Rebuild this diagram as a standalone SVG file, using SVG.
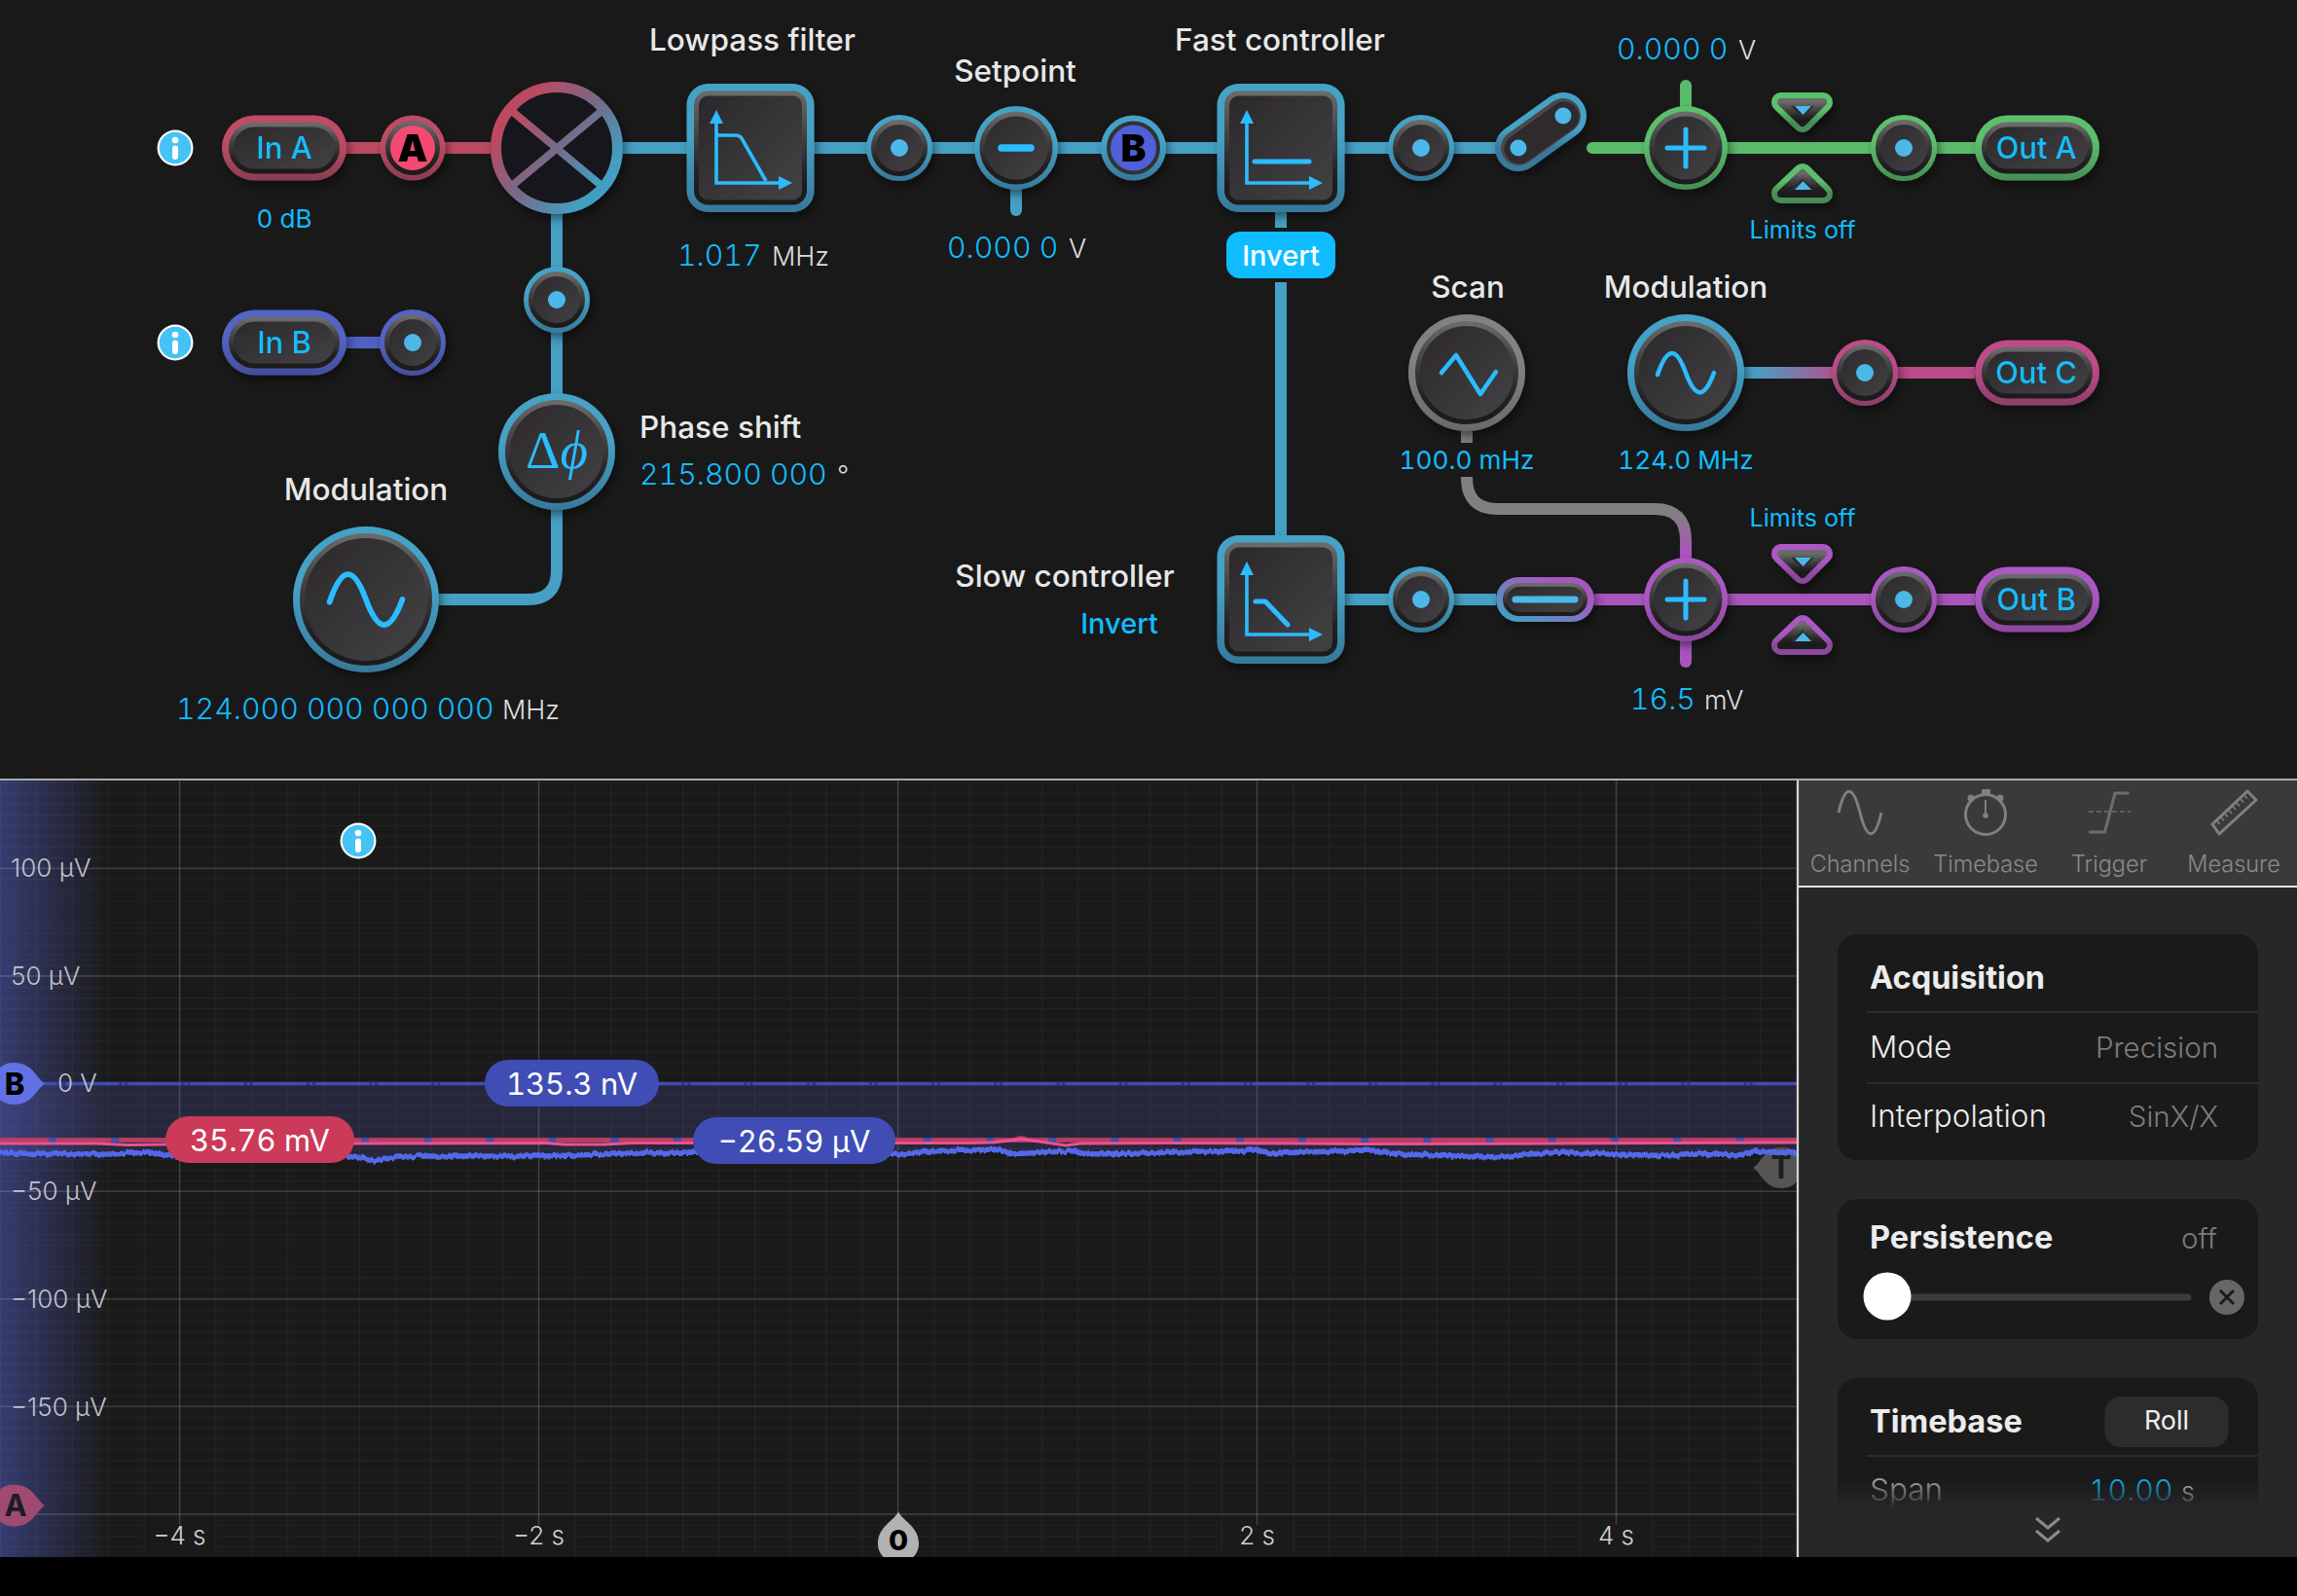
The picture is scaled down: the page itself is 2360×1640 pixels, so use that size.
<svg xmlns="http://www.w3.org/2000/svg" width="2360" height="1640" viewBox="0 0 2360 1640">
<defs>
<linearGradient id="body" x1="0" y1="0" x2="1" y2="1"><stop offset="0" stop-color="#2a282a"/><stop offset="1" stop-color="#444245"/></linearGradient>
<linearGradient id="bevel" x1="0" y1="0" x2="0" y2="1"><stop offset="0" stop-color="#6a6a6a"/><stop offset=".35" stop-color="#454545"/><stop offset=".75" stop-color="#232123"/><stop offset="1" stop-color="#1c1a1c"/></linearGradient>
<linearGradient id="rt" x1="0" y1="0" x2="0" y2="1"><stop offset=".4" stop-color="#45a2c6"/><stop offset="1" stop-color="#38789a"/></linearGradient>
<linearGradient id="rr" x1="0" y1="0" x2="0" y2="1"><stop offset=".4" stop-color="#c04c64"/><stop offset="1" stop-color="#8a3c50"/></linearGradient>
<linearGradient id="rb" x1="0" y1="0" x2="0" y2="1"><stop offset=".4" stop-color="#5564c4"/><stop offset="1" stop-color="#444e9c"/></linearGradient>
<linearGradient id="rg" x1="0" y1="0" x2="0" y2="1"><stop offset=".4" stop-color="#5cbf6c"/><stop offset="1" stop-color="#478c54"/></linearGradient>
<linearGradient id="rp" x1="0" y1="0" x2="0" y2="1"><stop offset=".4" stop-color="#ab58c2"/><stop offset="1" stop-color="#8a489c"/></linearGradient>
<linearGradient id="rk" x1="0" y1="0" x2="0" y2="1"><stop offset=".4" stop-color="#c04b8a"/><stop offset="1" stop-color="#8a3f68"/></linearGradient>
<linearGradient id="ry" x1="0" y1="0" x2="0" y2="1"><stop offset=".4" stop-color="#828282"/><stop offset="1" stop-color="#6a6a6a"/></linearGradient>
<linearGradient id="mix" gradientUnits="userSpaceOnUse" x1="520" y1="108" x2="625" y2="196"><stop offset=".1" stop-color="#bb4a62"/><stop offset=".5" stop-color="#766a88"/><stop offset=".9" stop-color="#429fc2"/></linearGradient>
<linearGradient id="slim" x1="0" y1="1" x2="1" y2="0"><stop offset=".1" stop-color="#429fc2"/><stop offset=".75" stop-color="#a857c0"/></linearGradient>
<linearGradient id="toPink" gradientUnits="userSpaceOnUse" x1="1800" y1="383" x2="1895" y2="383"><stop offset="0" stop-color="#45a2c6"/><stop offset="1" stop-color="#bb4a88"/></linearGradient>
<linearGradient id="toPurple" gradientUnits="userSpaceOnUse" x1="1732" y1="528" x2="1732" y2="566"><stop offset="0" stop-color="#808080"/><stop offset="1" stop-color="#a855bd"/></linearGradient>
<linearGradient id="leftGlow" x1="0" y1="0" x2="1" y2="0"><stop offset="0" stop-color="#363c70" stop-opacity="1"/><stop offset="1" stop-color="#363c70" stop-opacity="0"/></linearGradient>
<linearGradient id="fade" x1="0" y1="0" x2="0" y2="1"><stop offset="0" stop-color="#272727" stop-opacity="0"/><stop offset="1" stop-color="#272727"/></linearGradient>
<pattern id="minor" patternUnits="userSpaceOnUse" width="36.9" height="11.06" patternTransform="translate(0 892.3)"><path d="M0 0H36.9M0 0V11.06" fill="none" stroke="#fff" stroke-opacity=".05" stroke-width="1.6"/></pattern>
<clipPath id="scopeClip"><rect x="0" y="802" width="1846" height="798"/></clipPath>
<filter id="sh" x="-30%" y="-30%" width="170%" height="170%"><feDropShadow dx="3" dy="5" stdDeviation="5" flood-color="#000" flood-opacity=".45"/></filter>
<filter id="noise" filterUnits="userSpaceOnUse" x="0" y="1150" width="1850" height="70" color-interpolation-filters="sRGB"><feTurbulence type="fractalNoise" baseFrequency="0.3 0.03" numOctaves="2" seed="5"/><feDisplacementMap in="SourceGraphic" scale="5" xChannelSelector="R" yChannelSelector="G"/></filter>
<g id="pt"><circle r="34"/><circle r="26.5" fill="url(#body)" stroke="url(#bevel)" stroke-width="5"/><circle r="9" fill="#4bb8e8"/></g>
<g id="pill"><rect x="-64" y="-33.5" width="128" height="67" rx="33.5"/><rect x="-54.500" y="-24" width="109" height="48" rx="24" fill="url(#body)" stroke="url(#bevel)" stroke-width="5"/></g>
<g id="box"><rect x="-65.500" y="-66" width="131" height="132" rx="22"/><rect x="-55.5" y="-56" width="111" height="112" rx="12" fill="url(#body)" stroke="url(#bevel)" stroke-width="5"/></g>
<g id="r43"><circle r="43"/><circle r="35" fill="url(#body)" stroke="url(#bevel)" stroke-width="5"/></g>
<g id="r60"><circle r="60"/><circle r="50.5" fill="url(#body)" stroke="url(#bevel)" stroke-width="5"/></g>
<path id="sine1" d="M-29 2C-19-27-10-27 0 0C10 27 19 27 29 0" fill="none" stroke="#2cbcff" stroke-width="4.5" stroke-linecap="round"/>
<path id="axes" d="M-35-26V36H33" fill="none" stroke="#2cbcff" stroke-width="3.6"/>
<path id="heads" d="M-35-39L-42-25H-28ZM43 36L29 29V43Z" fill="#2cbcff"/>
<g id="info"><circle r="18.5" fill="#fff"/><circle r="16.3" fill="#45c3f5"/><circle cy="-8" r="3.3" fill="#fff"/><rect x="-3" y="-2.5" width="6" height="14.5" rx="3" fill="#fff"/></g>
<path id="drop" d="M46 0C38-4.500 34-21.500 14-21.500C-14-21.500-14 21.500 14 21.500C34 21.500 38 4.500 46 0Z"/>
</defs>
<style>
text{font-family:Inter,"Liberation Sans",sans-serif}
.lbl{font-size:31.500px;font-weight:500;fill:#e8e8e8;text-anchor:middle}
.val{font-size:30.300px;font-weight:300;fill:#12bcff;font-variant-numeric:tabular-nums}
.unit{font-size:27px;font-weight:300;fill:#dedede}
.sm{font-size:26.200px;font-weight:400;fill:#12bcff;text-anchor:middle;font-variant-numeric:tabular-nums}
.lim{font-size:25px;font-weight:400;fill:#12bcff;text-anchor:middle}
.pl{font-size:31px;font-weight:500;fill:#12bcff;text-anchor:middle}
.ax{font-size:26px;font-weight:300;fill:#c0c0cc}
.tab{font-size:23.500px;font-weight:300;fill:#8a8a8a;text-anchor:middle}
.h{font-size:32.500px;font-weight:700;fill:#ececec}
.row{font-size:31.500px;font-weight:300;fill:#ececec}
.rv{font-size:29.500px;font-weight:300;fill:#7c7c7c;text-anchor:end}
.bad{font-size:31px;font-weight:400;fill:#fff;text-anchor:middle;font-variant-numeric:tabular-nums}
.teal{fill:url(#rt)}.red{fill:url(#rr)}.blue{fill:url(#rb)}.green{fill:url(#rg)}.purple{fill:url(#rp)}.pink{fill:url(#rk)}.gray{fill:url(#ry)}
.n{filter:url(#sh)}
.w{fill:none;stroke-width:12}
.ico{fill:none;stroke:#2cbcff;stroke-width:5;stroke-linecap:round}
.t{fill:none;stroke:#808080;stroke-width:3}
.li{stroke-width:8;stroke:url(#bevel);stroke-linejoin:round;fill:#2c2a2d}
.lo{stroke-width:20;stroke-linejoin:round}
</style>
<rect width="2360" height="1640" fill="#19191a"/>
<g id="connectors">
<path class="w" stroke="#bb4a62" d="M354 152H504"/>
<path class="w" stroke="#5060c4" d="M354 352H424"/>
<path class="w" stroke="#45a0c4" d="M640 152H1251M1381 152H1560M1381 616H1537M1316 217V234M1316 290V551"/>
<path class="w" stroke="#45a0c4" d="M572 215V586Q572 616 542 616H451"/>
<path class="w" stroke="#45a0c4" stroke-linecap="round" d="M1044 190V216"/>
<path class="w" stroke="#5abc6a" stroke-linecap="round" d="M1636 152H2029M1732 110V88"/>
<path class="w" stroke="url(#toPink)" d="M1790 383H1900"/>
<path class="w" stroke="#bb4a88" d="M1900 383H2029"/>
<path class="w" stroke="#808080" d="M1507 443V455"/>
<path class="w" stroke="url(#toPurple)" d="M1507 490V491Q1507 523 1539 523H1700Q1732 523 1732 555V575"/>
<path class="w" stroke="#a855bd" d="M1638 616H2029"/>
<path class="w" stroke="#a855bd" stroke-linecap="round" d="M1732 650V680"/>
</g>
<g id="info-a"><use href="#info" x="180" y="152"/></g>
<g id="info-b"><use href="#info" x="180" y="352"/></g>
<g id="in-a" class="n"><use href="#pill" x="292" y="152" class="red"/><text class="pl" x="292" y="163">In A</text></g>
<text class="sm" x="292" y="234">0 dB</text>
<g id="badge-a" class="n"><circle cx="424" cy="152" r="33.500" class="red"/><circle cx="424" cy="152" r="25.500" fill="#f44a70" stroke="url(#bevel)" stroke-width="5"/><text x="424" y="166" font-size="39" font-weight="900" text-anchor="middle" fill="#000">A</text></g>
<g id="mixer" class="n"><circle cx="572" cy="152" r="62.500" fill="#19191a" stroke="url(#mix)" stroke-width="11"/><path d="M527 115L617 190M617 115L527 190" fill="none" stroke="url(#mix)" stroke-width="8"/></g>
<g id="lowpass" class="n"><use href="#box" x="771" y="152" class="teal"/><g transform="translate(771 152)"><use href="#axes"/><use href="#heads"/><path d="M-35-13H-15Q-10-13-8-8L16 34" fill="none" stroke="#2cbcff" stroke-width="3.600"/></g></g>
<text class="lbl" x="773" y="52">Lowpass filter</text>
<text class="val" x="696" y="273">1.017</text><text class="unit" x="793" y="273">MHz</text>
<g id="pt1" class="n"><use href="#pt" x="924" y="152" class="teal"/></g>
<g id="setpoint" class="n"><circle cx="1044" cy="152" r="43" class="teal"/><circle cx="1044" cy="152" r="35" fill="url(#body)" stroke="url(#bevel)" stroke-width="5"/><path d="M1029 152H1059" fill="none" stroke="#2cbcff" stroke-width="7.500" stroke-linecap="round"/></g>
<text class="lbl" x="1043" y="84">Setpoint</text>
<text class="val" x="973" y="265">0.000 0</text><text class="unit" x="1098" y="265">V</text>
<g id="badge-b" class="n"><circle cx="1164.500" cy="152" r="33.500" class="teal"/><circle cx="1164.500" cy="152" r="25.500" fill="#5060d8" stroke="#333" stroke-width="4"/><text x="1164.500" y="166" font-size="39" font-weight="900" text-anchor="middle" fill="#000">B</text></g>
<g id="fast" class="n"><use href="#box" x="1316" y="152" class="teal"/><g transform="translate(1316 152)"><use href="#axes"/><use href="#heads"/><path d="M-27 14H29" fill="none" stroke="#2cbcff" stroke-width="5" stroke-linecap="round"/></g></g>
<text class="lbl" x="1315" y="52">Fast controller</text>
<g id="invert-btn"><rect x="1260" y="238" width="112" height="48" rx="14" fill="#0fbcff"/><text x="1316" y="273" font-size="29" font-weight="500" text-anchor="middle" fill="#fff">Invert</text></g>
<g id="pt2" class="n"><use href="#pt" x="1460" y="152" class="teal"/></g>
<g id="switch" class="n"><path d="M1560 152L1606 119" fill="none" stroke="url(#rt)" stroke-width="48" stroke-linecap="round"/><path d="M1560 152L1606 119" fill="none" stroke="#4a4a4c" stroke-width="36" stroke-linecap="round"/><path d="M1561 153L1607 120" fill="none" stroke="#2e2c2e" stroke-width="31" stroke-linecap="round"/><circle cx="1560" cy="152" r="8.500" fill="#4bb8e8"/><circle cx="1606" cy="119" r="8.500" fill="#4bb8e8"/></g>
<g id="sum-a" class="n"><use href="#r43" x="1732" y="152" class="green"/><path d="M1713 152H1751M1732 133V171" class="ico"/></g>
<text class="val" x="1661" y="61">0.000 0</text><text class="unit" x="1786" y="61">V</text>
<g id="limit-a" class="n"><g transform="translate(0 -464)"><path d="M1830 569H1873L1852 590Z" class="green lo" stroke="url(#rg)"/><path d="M1830 569H1873L1852 590Z" class="li"/><path d="M1844 573H1861L1852.500 582Z" fill="#4bb8e8"/><path d="M1852 642L1873 663H1830Z" class="green lo" stroke="url(#rg)"/><path d="M1852 642L1873 663H1830Z" class="li"/><path d="M1852.500 650L1861 659H1844Z" fill="#4bb8e8"/></g></g>
<text class="lim" x="1852" y="245">Limits off</text>
<g id="pt3" class="n"><use href="#pt" x="1956" y="152" class="green"/></g>
<g id="out-a" class="n"><use href="#pill" x="2093" y="152" class="green"/><text class="pl" x="2092" y="163">Out A</text></g>
<g id="in-b" class="n"><use href="#pill" x="292" y="352" class="blue"/><text class="pl" x="292" y="363">In B</text></g>
<g id="pt4" class="n"><use href="#pt" x="424" y="352" class="blue"/></g>
<g id="pt5" class="n"><use href="#pt" x="572" y="308" class="teal"/></g>
<g id="phase" class="n"><use href="#r60" x="572" y="464" class="teal"/><text x="572" y="481" style="font-family:'Liberation Serif',serif" font-size="55" text-anchor="middle" fill="#2cbcff">Δ<tspan font-style="italic">ϕ</tspan></text></g>
<text class="lbl" style="text-anchor:start" x="657" y="450">Phase shift</text>
<text class="val" x="657" y="498">215.800 000</text><text class="unit" x="860" y="498">°</text>
<g id="mod-1" class="n"><circle cx="376" cy="616" r="75" class="teal"/><circle cx="376" cy="616" r="65.500" fill="url(#body)" stroke="url(#bevel)" stroke-width="5"/><g transform="translate(376 616) scale(1.290)"><use href="#sine1"/></g></g>
<text class="lbl" x="376" y="514">Modulation</text>
<text class="val" x="181" y="739">124.000 000 000 000</text><text class="unit" x="516" y="739">MHz</text>
<g id="scan" class="n"><use href="#r60" x="1507" y="383" class="gray"/><path d="M1481 383L1496 365L1521 405L1537 382" fill="none" stroke="#2cbcff" stroke-width="4.500" stroke-linecap="round" stroke-linejoin="round"/></g>
<text class="lbl" x="1508" y="306">Scan</text>
<text class="sm" x="1507" y="482">100.0 mHz</text>
<g id="mod-2" class="n"><use href="#r60" x="1732" y="383" class="teal"/><use href="#sine1" x="1732" y="383"/></g>
<text class="lbl" x="1732" y="306">Modulation</text>
<text class="sm" x="1732" y="482">124.0 MHz</text>
<g id="pt6" class="n"><use href="#pt" x="1916" y="383" class="pink"/></g>
<g id="out-c" class="n"><use href="#pill" x="2093" y="383" class="pink"/><text class="pl" x="2092" y="394">Out C</text></g>
<g id="slow" class="n"><use href="#box" x="1316" y="616" class="teal"/><g transform="translate(1316 616)"><use href="#axes"/><use href="#heads"/><path d="M-26 2H-16L7 26" fill="none" stroke="#2cbcff" stroke-width="5" stroke-linecap="round" stroke-linejoin="round"/></g></g>
<text class="lbl" x="1094" y="603">Slow controller</text>
<text x="1150" y="651" font-size="29" font-weight="500" text-anchor="middle" fill="#12bcff">Invert</text>
<g id="pt7" class="n"><use href="#pt" x="1460" y="616" class="teal"/></g>
<g id="offset-pill" class="n"><rect x="1537" y="593" width="101" height="46" rx="23" fill="url(#slim)"/><rect x="1546" y="601" width="83" height="30" rx="15" fill="url(#body)" stroke="url(#bevel)" stroke-width="4"/><path d="M1557 616H1618" fill="none" stroke="#4bb8e8" stroke-width="7" stroke-linecap="round"/></g>
<g id="sum-b" class="n"><use href="#r43" x="1732" y="616" class="purple"/><path d="M1713 616H1751M1732 597V635" class="ico"/></g>
<text class="val" x="1675" y="729">16.5</text><text class="unit" x="1751" y="729">mV</text>
<text class="lim" x="1852" y="541">Limits off</text>
<g id="limit-b" class="n"><path d="M1830 569H1873L1852 590Z" class="purple lo" stroke="url(#rp)"/><path d="M1830 569H1873L1852 590Z" class="li"/><path d="M1844 573H1861L1852.500 582Z" fill="#4bb8e8"/><path d="M1852 642L1873 663H1830Z" class="purple lo" stroke="url(#rp)"/><path d="M1852 642L1873 663H1830Z" class="li"/><path d="M1852.500 650L1861 659H1844Z" fill="#4bb8e8"/></g>
<g id="pt8" class="n"><use href="#pt" x="1956" y="616" class="purple"/></g>
<g id="out-b" class="n"><use href="#pill" x="2093" y="616" class="purple"/><text class="pl" x="2092" y="627">Out B</text></g>

<g id="scope" clip-path="url(#scopeClip)">
<rect x="0" y="802" width="1846" height="798" fill="#1a1a1a"/>
<rect x="0" y="802" width="112" height="798" fill="url(#leftGlow)"/>
<rect x="0" y="802" width="1846" height="798" fill="url(#minor)"/>
<path d="M0 892.300H1846M0 1002.900H1846M0 1113.500H1846M0 1224.100H1846M0 1334.700H1846M0 1445.300H1846M0 1555.900H1846" stroke="#fff" stroke-opacity=".13" stroke-width="1.600" fill="none"/>
<path d="M184.500 802V1600M553.500 802V1600M922.500 802V1600M1291.500 802V1600M1660.500 802V1600" stroke="#fff" stroke-opacity=".16" stroke-width="1.300" fill="none"/>
<path d="M0 1113.500L0 1185L115 1186L153 1184L178 1188L364 1188L383 1193L408 1188L555 1188L702 1184L925 1186L957 1183L1000 1182L1023 1181L1040 1185.700L1103 1182.700L1123 1186L1172 1185L1287 1181.700L1310 1185L1402 1182L1436 1185.700L1494 1188L1522 1189L1551 1188L1597 1184L1717 1187.700L1738 1185L1786 1187L1804 1183L1847 1185L1847 1113.500Z" fill="#5a60c0" fill-opacity=".2"/>
<path d="M0 1113.500H1846" stroke="#3f4db5" stroke-width="3.500" fill="none"/>
<path d="M0 1113.500H1846" stroke="#2a3488" stroke-width="3.500" stroke-dasharray="3 3 3 55.200" stroke-dashoffset="6" fill="none"/>
<g id="marker-t"><path d="M1801 1200C1809 1196 1813 1179 1830 1179C1858 1179 1858 1221 1830 1221C1813 1221 1809 1204 1801 1200Z" fill="#555"/><text x="1830" y="1211" font-size="32" font-weight="700" text-anchor="middle" fill="#1e1e1e">T</text></g>
<path d="M0 1171.500H1846" stroke="#4050b0" stroke-width="4.500" fill="none"/>
<path d="M0 1171.500H1846" stroke="#c03c5e" stroke-width="4.500" stroke-dasharray="56.200 8" stroke-dashoffset="6.200" fill="none"/>
<path d="M1025 1173Q1038 1170 1049 1167Q1060 1170 1075 1173Z" fill="#c8385a"/>
<path d="M0 1175L100 1175L130 1176.500L170 1176L364 1175L560 1174.500L580 1176L620 1176L650 1174.500L1000 1174.500L1020 1174L1049 1170.500L1068 1173L1095 1177L1110 1175L1200 1174.500L1340 1175L1400 1175.500L1590 1175L1847 1174" fill="none" stroke="#ea5290" stroke-width="3"/>
<path filter="url(#noise)" d="M0 1185L115 1186L153 1184L178 1188L364 1188L383 1193L408 1188L555 1188L702 1184L925 1186L957 1183L1000 1182L1023 1181L1040 1185.700L1103 1182.700L1123 1186L1172 1185L1287 1181.700L1310 1185L1402 1182L1436 1185.700L1494 1188L1522 1189L1551 1188L1597 1184L1717 1187.700L1738 1185L1786 1187L1804 1183L1847 1185" fill="none" stroke="#5468ea" stroke-width="5.500"/>
<g id="badge-nv"><rect x="498" y="1089" width="179" height="48" rx="24" fill="#3f4db5"/><text class="bad" x="587.500" y="1125">135.3 nV</text></g>
<g id="badge-mv"><rect x="170" y="1147" width="194" height="48" rx="24" fill="#cb3a58"/><text class="bad" x="267" y="1183">35.76 mV</text></g>
<g id="badge-uv"><rect x="712" y="1148" width="208" height="48" rx="24" fill="#3f4db5"/><text class="bad" x="816" y="1184">−26.59 µV</text></g>
<text class="ax" x="11" y="901">100 µV</text>
<text class="ax" x="11" y="1012">50 µV</text>
<text class="ax" x="59" y="1122">0 V</text>
<text class="ax" x="11" y="1233">−50 µV</text>
<text class="ax" x="11" y="1344">−100 µV</text>
<text class="ax" x="11" y="1455">−150 µV</text>
<g id="marker-b"><use href="#drop" y="1113.500" fill="#6272e4"/><text x="15" y="1125" font-size="31" font-weight="800" text-anchor="middle" fill="#000">B</text></g>
<g id="marker-a"><use href="#drop" y="1547" fill="#a04a72"/><text x="16" y="1558" font-size="31" font-weight="700" text-anchor="middle" fill="#1c1c24">A</text></g>
<use href="#info" x="368" y="864"/>
<rect x="149" y="1567" width="72" height="33" fill="#1a1a1a"/><rect x="518" y="1567" width="72" height="33" fill="#1a1a1a"/><rect x="1256" y="1567" width="72" height="33" fill="#1a1a1a"/><rect x="1625" y="1567" width="72" height="33" fill="#1a1a1a"/>
<text class="ax" style="text-anchor:middle;fill:#d0d0d0" x="184.500" y="1587">−4 s</text>
<text class="ax" style="text-anchor:middle;fill:#d0d0d0" x="553.500" y="1587">−2 s</text>
<text class="ax" style="text-anchor:middle;fill:#d0d0d0" x="1291.500" y="1587">2 s</text>
<text class="ax" style="text-anchor:middle;fill:#d0d0d0" x="1660.500" y="1587">4 s</text>
<g id="marker-0"><path d="M923 1553C926 1562 944 1568 944 1586C944 1612 902 1612 902 1586C902 1568 920 1562 923 1553Z" fill="#b2b2b2"/><text x="923" y="1593" font-size="29" font-weight="800" text-anchor="middle" fill="#000">0</text></g>
</g>

<g id="panel">
<rect x="1848" y="802" width="512" height="798" fill="#272727"/>
<rect x="1848" y="802" width="512" height="108" fill="#3a3a3a"/>
<g id="tab-channels"><path d="M1889 835C1896 805 1904 807 1911 835C1918 863 1926 865 1933 835" class="t"/><text class="tab" x="1911" y="896">Channels</text></g>
<g id="tab-timebase"><circle cx="2040" cy="837" r="20.500" class="t"/><rect x="2036" y="811" width="9" height="6" fill="#808080"/><circle cx="2025" cy="820" r="3.500" fill="#808080"/><circle cx="2055" cy="820" r="3.500" fill="#808080"/><path d="M2040 822V840" class="t" style="stroke-width:2"/><circle cx="2040" cy="838" r="2.800" fill="#808080"/><text class="tab" x="2040" y="896">Timebase</text></g>
<g id="tab-trigger"><path d="M2146 855H2162.500L2173 815H2187.500" class="t" style="stroke:#6e6e6e"/><path d="M2146 834H2189" class="t" style="stroke:#6e6e6e;stroke-width:1.500;stroke-dasharray:5 3"/><text class="tab" x="2167" y="896">Trigger</text></g>
<g id="tab-measure"><path d="M2273 847L2280 857L2318 822L2309 813Z" class="t" style="stroke-linejoin:round"/><path d="M2274.700 849.500L2310.700 815.500" class="t" style="stroke-width:5;stroke-dasharray:1.500 4"/><text class="tab" x="2295" y="896">Measure</text></g>
<g id="card-acq"><rect x="1888" y="960" width="432" height="232" rx="20" fill="#1a1a1a"/><text class="h" x="1921" y="1016">Acquisition</text><path d="M1918 1040H2320M1918 1113H2320" stroke="#333" stroke-width="1.500"/><text class="row" x="1921" y="1087">Mode</text><text class="rv" x="2279" y="1087">Precision</text><text class="row" x="1921" y="1158">Interpolation</text><text class="rv" x="2279" y="1158">SinX/X</text></g>
<g id="card-per"><rect x="1888" y="1232" width="432" height="144" rx="20" fill="#1a1a1a"/><text class="h" x="1921" y="1283">Persistence</text><text class="rv" x="2278" y="1283">off</text><path d="M1939 1333H2248" stroke="#3c3c3c" stroke-width="7" stroke-linecap="round"/><circle cx="1939" cy="1332" r="24.500" fill="#fff"/><circle cx="2288" cy="1333" r="18" fill="#666"/><path d="M2281 1326L2295 1340M2295 1326L2281 1340" stroke="#1a1a1a" stroke-width="3"/></g>
<g id="card-time"><rect x="1888" y="1416" width="432" height="184" rx="20" fill="#1a1a1a"/><text class="h" x="1921" y="1472">Timebase</text><rect x="2162.500" y="1435" width="127" height="52" rx="16" fill="#2c2c2e"/><text x="2226" y="1469" font-size="27" text-anchor="middle" fill="#eee">Roll</text><path d="M1918 1496H2320" stroke="#333" stroke-width="1.500"/><text class="row" x="1921" y="1542" style="fill:#9a9a9a">Span</text><text class="val" style="fill:#12a8e4" x="2146" y="1542">10.00</text><text class="unit" style="fill:#bbb" x="2241" y="1542">s</text></g>
<rect x="1848" y="1522" width="512" height="28" fill="url(#fade)"/>
<rect x="1848" y="1550" width="512" height="50" fill="#272727"/>
<path d="M2092 1560L2104 1570L2116 1560M2092 1573L2104 1583L2116 1573" fill="none" stroke="#8a8a8a" stroke-width="3"/>
</g>
<path d="M0 801H2360" stroke="#aaa" stroke-width="2"/>
<path d="M1847 802V1600" stroke="#d4d4d4" stroke-width="2.200"/>
<path d="M1848 911H2360" stroke="#e4e4e4" stroke-width="2"/>
<rect x="0" y="1600" width="2360" height="40" fill="#000"/>
</svg>
